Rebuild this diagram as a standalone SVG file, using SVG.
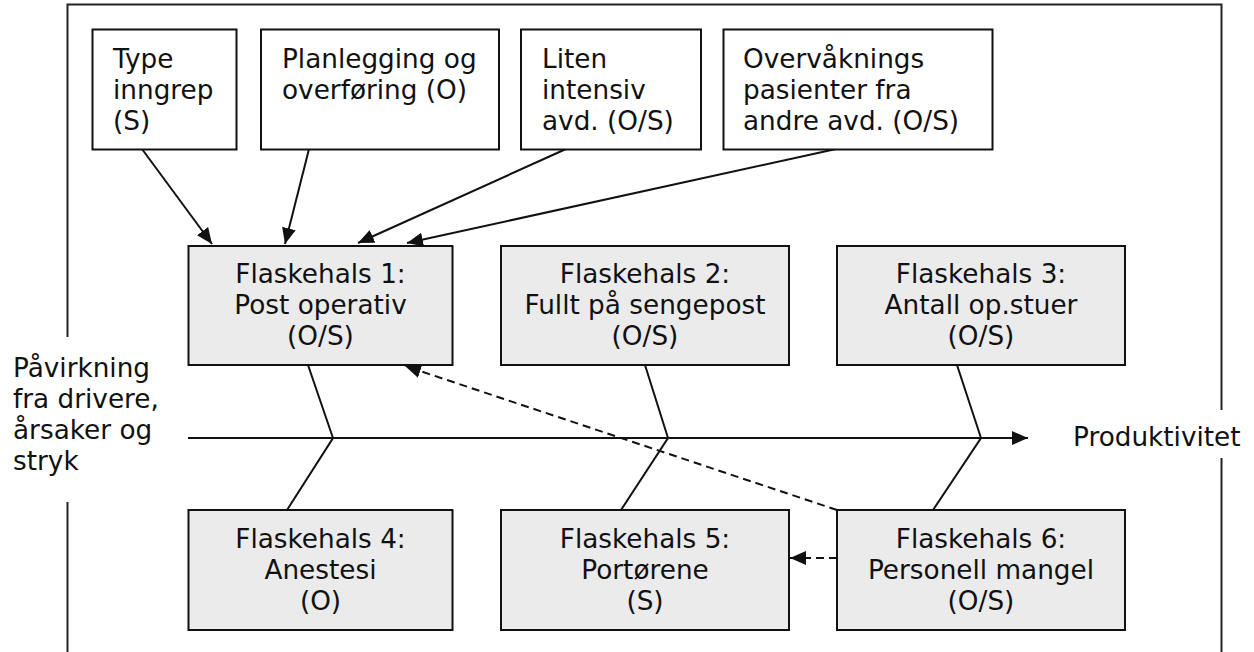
<svg xmlns="http://www.w3.org/2000/svg" width="1254" height="652" viewBox="0 0 1254 652">
  <style>
    text { font-family: "DejaVu Sans", Verdana, sans-serif; font-size: 26.3px; fill: #111; }
    .mid { text-anchor: middle; }
    .src { fill: #fff; stroke: #111; stroke-width: 2; }
    .neck { fill: #ebebeb; stroke: #111; stroke-width: 2; }
    .frame { fill: none; stroke: #222; stroke-width: 2; }
    .edge { fill: none; stroke: #111; stroke-width: 2; }
    .dash { fill: none; stroke: #111; stroke-width: 2; stroke-dasharray: 8 5; }
  </style>
  <defs>
    <marker id="arrow" viewBox="0 0 16 14" refX="16" refY="7" markerWidth="16" markerHeight="14" markerUnits="userSpaceOnUse" orient="auto">
      <path d="M0,0 L16,7 L0,14 Z" fill="#111"/>
    </marker>
  </defs>
  <rect width="1254" height="652" fill="#fff"/>

  <!-- outer frame, open where the side labels sit -->
  <g id="frame">
    <path class="frame" d="M67.5,337 V4.5 H1221.5 V410"/>
    <path class="frame" d="M67.5,502 V652"/>
    <path class="frame" d="M1221.5,458 V652"/>
  </g>

  <!-- connectors -->
  <g id="connectors">
    <line class="edge" x1="142" y1="149" x2="212" y2="244" marker-end="url(#arrow)"/>
    <line class="edge" x1="309" y1="149" x2="285" y2="244" marker-end="url(#arrow)"/>
    <line class="edge" x1="566" y1="149" x2="358" y2="243" marker-end="url(#arrow)"/>
    <line class="edge" x1="836" y1="149" x2="407" y2="243" marker-end="url(#arrow)"/>
    <!-- spine -->
    <line class="edge" x1="188" y1="438" x2="1028" y2="438" marker-end="url(#arrow)"/>
    <!-- bones -->
    <polyline class="edge" points="308,365 333,438 287,510"/>
    <polyline class="edge" points="645,365 668,438 621,510"/>
    <polyline class="edge" points="957,365 981,438 933,510"/>
    <!-- dashed influences -->
    <line class="dash" x1="837" y1="510" x2="405" y2="366" marker-end="url(#arrow)"/>
    <line class="dash" x1="837" y1="558" x2="790" y2="558" marker-end="url(#arrow)"/>
  </g>

  <!-- top causes -->
  <g id="type-inngrep">
    <rect class="src" x="92.5" y="29.5" width="144" height="120"/>
    <text x="113" y="68">Type</text>
    <text x="113" y="99">inngrep</text>
    <text x="113" y="130">(S)</text>
  </g>
  <g id="planlegging">
    <rect class="src" x="261" y="29.5" width="238" height="120"/>
    <text x="282" y="68">Planlegging og</text>
    <text x="282" y="99">overføring (O)</text>
  </g>
  <g id="liten-intensiv">
    <rect class="src" x="521" y="29.5" width="180" height="120"/>
    <text x="542" y="68">Liten</text>
    <text x="542" y="99">intensiv</text>
    <text x="542" y="130">avd. (O/S)</text>
  </g>
  <g id="overvaakning">
    <rect class="src" x="723.5" y="29.5" width="269" height="120"/>
    <text x="743" y="68">Overvåknings</text>
    <text x="743" y="99">pasienter fra</text>
    <text x="743" y="130">andre avd. (O/S)</text>
  </g>

  <!-- bottlenecks, upper row -->
  <g id="flaskehals-1">
    <rect class="neck" x="188.5" y="246" width="264" height="119"/>
    <text class="mid" x="320.5" y="283">Flaskehals 1:</text>
    <text class="mid" x="320.5" y="314">Post operativ</text>
    <text class="mid" x="320.5" y="345">(O/S)</text>
  </g>
  <g id="flaskehals-2">
    <rect class="neck" x="501" y="246" width="288" height="119"/>
    <text class="mid" x="645" y="283">Flaskehals 2:</text>
    <text class="mid" x="645" y="314">Fullt på sengepost</text>
    <text class="mid" x="645" y="345">(O/S)</text>
  </g>
  <g id="flaskehals-3">
    <rect class="neck" x="837" y="246" width="288" height="119"/>
    <text class="mid" x="981" y="283">Flaskehals 3:</text>
    <text class="mid" x="981" y="314">Antall op.stuer</text>
    <text class="mid" x="981" y="345">(O/S)</text>
  </g>

  <!-- bottlenecks, lower row -->
  <g id="flaskehals-4">
    <rect class="neck" x="188.5" y="510" width="264" height="120"/>
    <text class="mid" x="320.5" y="548">Flaskehals 4:</text>
    <text class="mid" x="320.5" y="579">Anestesi</text>
    <text class="mid" x="320.5" y="610">(O)</text>
  </g>
  <g id="flaskehals-5">
    <rect class="neck" x="501" y="510" width="288" height="120"/>
    <text class="mid" x="645" y="548">Flaskehals 5:</text>
    <text class="mid" x="645" y="579">Portørene</text>
    <text class="mid" x="645" y="610">(S)</text>
  </g>
  <g id="flaskehals-6">
    <rect class="neck" x="837" y="510" width="288" height="120"/>
    <text class="mid" x="981" y="548">Flaskehals 6:</text>
    <text class="mid" x="981" y="579">Personell mangel</text>
    <text class="mid" x="981" y="610">(O/S)</text>
  </g>

  <!-- spine ends -->
  <g id="paavirkning">
    <text x="13" y="377">Påvirkning</text>
    <text x="13" y="408">fra drivere,</text>
    <text x="13" y="439">årsaker og</text>
    <text x="13" y="470">stryk</text>
  </g>
  <g id="produktivitet">
    <text x="1073" y="446">Produktivitet</text>
  </g>
</svg>
